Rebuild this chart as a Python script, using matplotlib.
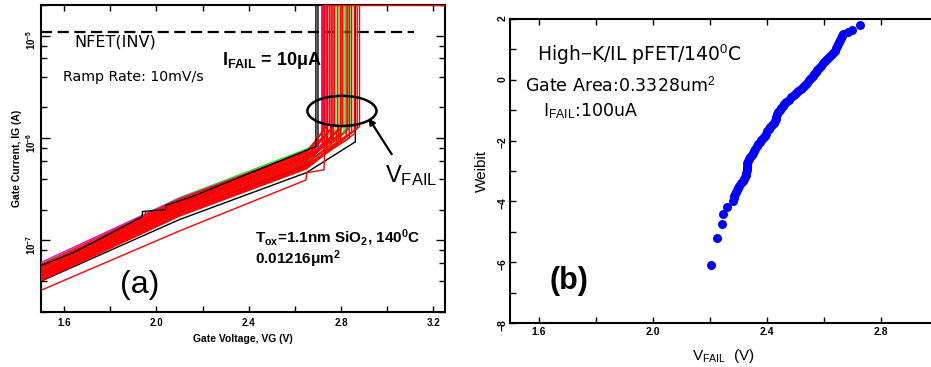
import numpy as np
import matplotlib.pyplot as plt
from matplotlib.patches import Ellipse
from matplotlib.ticker import MultipleLocator, LogLocator, NullFormatter

plt.rcParams['mathtext.fontset'] = 'custom'
plt.rcParams['mathtext.rm'] = 'Liberation Sans'
plt.rcParams['mathtext.bf'] = 'Liberation Sans:bold'
plt.rcParams['mathtext.it'] = 'Liberation Sans:italic'
plt.rcParams['font.family'] = ['Liberation Sans', 'DejaVu Sans']

# ---- (a) ramped-voltage IG-VG sweeps ----
V_START, V_MID, V_KNEE, V_END = 1.5, 2.1, 2.65, 3.25
I_COMP = 2e-5          # current compliance after breakdown
I_NFET = 1.1e-5        # NFET (inversion) reference level

# drawn in this order: black, green, magenta, then the red sweeps on top
curve_colors = ['k', 'k', 'k',
                'lime', 'lime', 'lime', 'lime',
                'magenta', 'magenta', 'magenta',
                'red', 'red', 'red', 'red', 'red', 'red', 'red', 'red', 'red',
                'red', 'red', 'red', 'red', 'red', 'red', 'red', 'red', 'red']
i_at_start = [4.0e-8, 4.4e-8, 5.0e-8,
              6.0e-8, 5.2e-8, 4.6e-8, 4.2e-8,
              6.1e-8, 5.5e-8, 4.8e-8,
              5.8e-8, 5.6e-8, 5.4e-8, 5.3e-8, 5.2e-8, 5.0e-8, 4.9e-8, 4.8e-8, 4.7e-8,
              4.6e-8, 4.5e-8, 4.4e-8, 4.3e-8, 4.2e-8, 4.15e-8, 4.1e-8, 4.05e-8, 5.5e-8]
i_at_mid = [1.60e-7, 1.88e-7, 2.21e-7,
            2.62e-7, 2.32e-7, 2.07e-7, 1.90e-7,
            2.58e-7, 2.31e-7, 2.05e-7,
            2.53e-7, 2.44e-7, 2.37e-7, 2.31e-7, 2.26e-7, 2.19e-7, 2.14e-7, 2.11e-7, 2.04e-7,
            2.00e-7, 1.95e-7, 1.91e-7, 1.87e-7, 1.81e-7, 1.79e-7, 1.76e-7, 1.73e-7, 2.44e-7]
i_at_knee = [4.6e-7, 5.4e-7, 6.6e-7,
             7.8e-7, 7.0e-7, 6.3e-7, 5.8e-7,
             7.4e-7, 6.6e-7, 6.0e-7,
             7.5e-7, 7.2e-7, 7.0e-7, 6.8e-7, 6.6e-7, 6.5e-7, 6.3e-7, 6.2e-7, 6.0e-7,
             5.9e-7, 5.7e-7, 5.6e-7, 5.5e-7, 5.3e-7, 5.2e-7, 5.1e-7, 5.0e-7, 7.3e-7]
v_fail = [2.862, 2.700, 2.800,
          2.778, 2.813, 2.843, 2.800,
          2.739, 2.760, 2.720,
          2.717, 2.725, 2.735, 2.742, 2.757, 2.765, 2.771, 2.786, 2.797,
          2.807, 2.822, 2.829, 2.836, 2.846, 2.858, 2.870, 2.880, 2.750]
i_at_fail = [9.2e-7, 7.5e-7, 1.1e-6,
             1.2e-6, 1.15e-6, 1.3e-6, 1.0e-6,
             1.1e-6, 1.0e-6, 9.0e-7,
             1.0e-6, 1.2e-6, 1.3e-6, 1.1e-6, 1.25e-6, 1.0e-6, 1.35e-6, 1.2e-6, 1.1e-6,
             1.3e-6, 1.05e-6, 1.2e-6, 1.0e-6, 1.15e-6, 1.1e-6, 1.25e-6, 1.3e-6, 1.4e-6]

# black sweep with two current steps (earliest breakdown)
step_v = [1.5, 1.64, 1.938, 1.940, 2.039, 2.041, 2.148, 2.691, 2.691, V_END]
step_i = [5.7e-8, 7.6e-8, 1.70e-7, 1.92e-7, 2.0e-7, 2.2e-7, 2.65e-7, 8.3e-7, I_COMP, I_COMP]

# lowest red sweep
low_v = [1.5, 2.104, 2.648, 2.652, 2.726, 2.728, 2.728, V_END]
low_i = [3.26e-8, 1.25e-7, 3.9e-7, 4.6e-7, 4.9e-7, 5.9e-7, I_COMP, I_COMP]

# current noise spikes on the red sweeps
spike_v = [1.950, 1.962, 1.975, 1.988, 2.000, 2.012, 2.025, 2.040, 2.055, 2.070, 2.085,
           2.100, 2.716, 2.724, 2.733, 2.741, 2.750, 2.758, 2.767, 2.776, 2.785, 2.794]
spike_lo = [1.50e-7, 1.52e-7, 1.55e-7, 1.58e-7, 1.60e-7, 1.63e-7, 1.66e-7, 1.70e-7, 1.74e-7,
            1.78e-7, 1.82e-7, 1.86e-7, 8.0e-7, 8.3e-7, 8.2e-7, 8.6e-7, 8.8e-7, 9.0e-7,
            9.2e-7, 9.4e-7, 9.6e-7, 9.8e-7]
spike_hi = [1.95e-7, 1.90e-7, 2.00e-7, 1.95e-7, 2.05e-7, 2.00e-7, 2.10e-7, 2.10e-7, 2.15e-7,
            2.20e-7, 2.20e-7, 2.30e-7, 1.25e-6, 1.15e-6, 1.30e-6, 1.20e-6, 1.35e-6, 1.25e-6,
            1.30e-6, 1.20e-6, 1.30e-6, 1.25e-6]

# ---- (b) Weibull plot of V_FAIL ----
weibit_v = [2.206, 2.226, 2.243, 2.245, 2.262,
            2.282, 2.284, 2.286, 2.288, 2.291, 2.294, 2.298, 2.304, 2.310, 2.316,
            2.321, 2.324, 2.326, 2.327, 2.329, 2.330, 2.331, 2.332, 2.335, 2.339,
            2.342, 2.347, 2.351, 2.356, 2.360, 2.365, 2.370, 2.376, 2.381, 2.387,
            2.393, 2.397, 2.401, 2.406, 2.412, 2.418, 2.424, 2.428, 2.431, 2.434,
            2.437, 2.441, 2.446, 2.451, 2.456, 2.462, 2.468, 2.477, 2.486, 2.494,
            2.502, 2.510, 2.519, 2.527, 2.535, 2.542, 2.549, 2.555, 2.561, 2.567,
            2.572, 2.577, 2.584, 2.590, 2.597, 2.604, 2.612, 2.619, 2.625, 2.631,
            2.638, 2.643, 2.646, 2.649, 2.652, 2.655, 2.659, 2.664, 2.667,
            2.685, 2.699, 2.728]
weibit_w = [-6.09, -5.19, -4.74, -4.42, -4.19,
            -3.98, -3.90, -3.83, -3.76, -3.69, -3.62, -3.55, -3.48, -3.41, -3.34,
            -3.27, -3.20, -3.12, -3.05, -2.97, -2.90, -2.82, -2.75, -2.68, -2.61,
            -2.54, -2.47, -2.40, -2.33, -2.26, -2.19, -2.12, -2.05, -1.98, -1.91,
            -1.84, -1.77, -1.70, -1.63, -1.56, -1.49, -1.42, -1.35, -1.28, -1.21,
            -1.14, -1.07, -1.00, -0.93, -0.86, -0.79, -0.72, -0.65, -0.58, -0.51,
            -0.44, -0.37, -0.30, -0.23, -0.16, -0.09, -0.02, 0.05, 0.12, 0.19,
            0.26, 0.33, 0.40, 0.47, 0.54, 0.61, 0.68, 0.75, 0.82, 0.89,
            0.96, 1.03, 1.10, 1.17, 1.24, 1.31, 1.38, 1.45, 1.50,
            1.56, 1.64, 1.80]

fig = plt.figure(figsize=(9.31, 3.67), dpi=100)
ax1 = fig.add_axes([0.0440, 0.1499, 0.4339, 0.8365])
ax2 = fig.add_axes([0.5478, 0.1199, 0.4597, 0.8283])

# subplot (a)
for c, a, b, k, vf, f in zip(curve_colors, i_at_start, i_at_mid, i_at_knee, v_fail, i_at_fail):
    ax1.plot([V_START, V_MID, V_KNEE, vf, vf, V_END], [a, b, k, f, I_COMP, I_COMP],
             color=c, lw=1.0, zorder=3)
ax1.plot(low_v, low_i, color='red', lw=1.0, zorder=3)
ax1.vlines(spike_v, spike_lo, spike_hi, color='red', lw=1.0, zorder=3)
ax1.plot(step_v, step_i, color='k', lw=1.0, zorder=3)
# red sweeps sitting at compliance hide the others along the top edge
red_vf = [vf for c, vf in zip(curve_colors, v_fail) if c == 'red']
ax1.plot([min(red_vf), V_END], [I_COMP, I_COMP], color='red', lw=1.0, zorder=3)
ax1.plot([V_START, 3.117], [I_NFET, I_NFET], color='k', lw=1.6, dashes=(5, 2.5), zorder=2)

ax1.set_yscale('log')
ax1.set_xlim(1.5, 3.25)
ax1.set_ylim(2e-8, 2e-5)
ax1.xaxis.set_major_locator(MultipleLocator(0.4))
ax1.xaxis.set_minor_locator(MultipleLocator(0.2))
ax1.yaxis.set_major_locator(LogLocator(base=10))
ax1.yaxis.set_minor_locator(LogLocator(base=10, subs=(2, 4, 6, 8)))
ax1.yaxis.set_minor_formatter(NullFormatter())
ax1.tick_params(which='both', direction='in', top=True, right=True, width=1.0)
ax1.tick_params(axis='x', which='both', length=4.3, labelsize=7, pad=4)
ax1.tick_params(axis='y', which='major', length=6.5, labelsize=7, pad=2, labelrotation=90)
ax1.tick_params(axis='y', which='minor', length=4.3)
for lab in ax1.get_xticklabels() + ax1.get_yticklabels():
    lab.set_fontweight('bold')
for sp in ax1.spines.values():
    sp.set_linewidth(1.5)
ax1.set_xlabel('Gate Voltage, VG (V)', fontsize=7.5, fontweight='bold')
ax1.set_ylabel('Gate Current, IG (A)', fontsize=7.5, fontweight='bold')
ax1.xaxis.set_label_coords(0.5, -0.072)
ax1.yaxis.set_label_coords(-0.047, 0.5)

ax1.text(0.082, 0.864, 'NFET(INV)', transform=ax1.transAxes, fontsize=11.5,
         family='DejaVu Sans', va='baseline')
ax1.text(0.054, 0.752, 'Ramp Rate: 10mV/s', transform=ax1.transAxes, fontsize=10.2,
         family='DejaVu Sans', va='baseline')
ax1.text(0.448, 0.805, r'I$_{\mathbf{FAIL}}$ = 10$\mathbf{\mu}$A', transform=ax1.transAxes,
         fontsize=13, fontweight='bold', va='baseline')
ax1.text(0.851, 0.423, r'V$_{\mathrm{FAIL}}$', transform=ax1.transAxes, fontsize=17,
         va='baseline')
ax1.text(0.530, 0.226, r'T$_{\mathbf{ox}}$=1.1nm SiO$_{\mathbf{2}}$, 140$^{\mathbf{0}}$C',
         transform=ax1.transAxes, fontsize=11, fontweight='bold', va='baseline')
ax1.text(0.530, 0.155, r'0.01216$\mathbf{\mu}$m$^{\mathbf{2}}$', transform=ax1.transAxes,
         fontsize=11, fontweight='bold', va='baseline')
ax1.text(0.196, 0.088, '(a)', transform=ax1.transAxes, fontsize=23, va='center')

ax1.add_patch(Ellipse((0.745, 0.655), 0.171, 0.098, transform=ax1.transAxes,
                      fill=False, ec='k', lw=1.8, zorder=4))
ax1.annotate('', xy=(2.913, 1.65e-6), xytext=(3.026, 6.6e-7),
             arrowprops=dict(arrowstyle='-|>', color='k', lw=1.6, mutation_scale=9),
             zorder=4)

# subplot (b)
ax2.scatter(weibit_v, weibit_w, s=42, color='blue', linewidths=0, zorder=3)
ax2.set_xlim(1.5, 3.0)
ax2.set_ylim(-8, 2)
ax2.xaxis.set_major_locator(MultipleLocator(0.4))
ax2.xaxis.set_minor_locator(MultipleLocator(0.2))
ax2.yaxis.set_major_locator(MultipleLocator(2))
ax2.yaxis.set_minor_locator(MultipleLocator(1))
ax2.tick_params(which='both', direction='in', top=True, right=False, width=1.0, length=4.3)
ax2.tick_params(axis='x', labelsize=7.5, pad=3)
ax2.tick_params(axis='y', labelsize=7.5, pad=2, labelrotation=90)
for lab in ax2.get_xticklabels() + ax2.get_yticklabels():
    lab.set_fontweight('bold')
for sp in ax2.spines.values():
    sp.set_linewidth(1.5)
ax2.set_xlabel(r'V$_{\mathrm{FAIL}}$  (V)', fontsize=11)
ax2.set_ylabel('Weibit', fontsize=11)
ax2.xaxis.set_label_coords(0.5, -0.079)
ax2.yaxis.set_label_coords(-0.049, 0.5)

ax2.text(0.063, 0.863, r'High$-$K/IL pFET/140$^{0}$C', transform=ax2.transAxes,
         fontsize=13.5, family='DejaVu Sans', va='baseline')
ax2.text(0.035, 0.761, r'Gate Area:0.3328um$^{2}$', transform=ax2.transAxes,
         fontsize=12.5, family='DejaVu Sans', va='baseline')
ax2.text(0.077, 0.679, r'I$_{\mathrm{FAIL}}$:100uA', transform=ax2.transAxes,
         fontsize=12.5, family='DejaVu Sans', va='baseline')
ax2.text(0.093, 0.138, '(b)', transform=ax2.transAxes, fontsize=22,
         fontweight='bold', va='center')

fig.savefig('out.png', dpi=100)
